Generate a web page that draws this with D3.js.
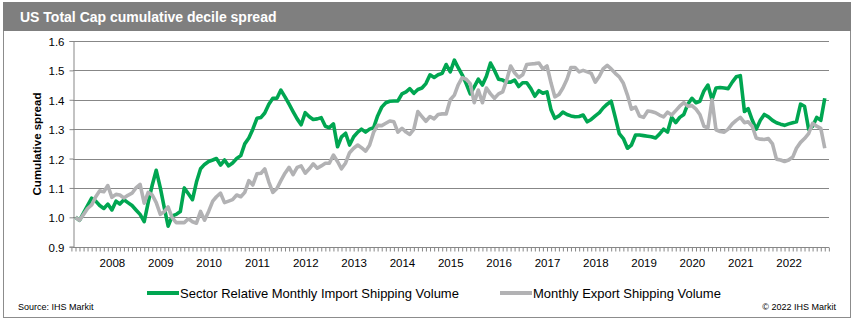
<!DOCTYPE html>
<html>
<head>
<meta charset="utf-8">
<script src="https://cdn.jsdelivr.net/npm/d3@7"></script>
<style>
  body { margin: 0; background: #fff; }
  text { font-family: "Liberation Sans", Arial, sans-serif; }
</style>
</head>
<body>
<div class="canvas"></div>
<script>
// monthly values, first point April 2007, last October 2022
const importSpread = [
  1.00, 0.99, 1.015, 1.04, 1.065, 1.055, 1.04, 1.03, 1.045,
  1.025, 1.055, 1.045, 1.06, 1.05, 1.04, 1.025, 1.01, 0.985, 1.05, 1.11, 1.16,
  1.10, 1.03, 0.97, 1.005, 1.01, 1.02, 1.10, 1.08, 1.06, 1.12, 1.165, 1.18,
  1.19, 1.195, 1.20, 1.178, 1.195, 1.175, 1.185, 1.20, 1.21, 1.25, 1.27, 1.30,
  1.337, 1.34, 1.355, 1.385, 1.405, 1.405, 1.433, 1.41, 1.385, 1.36, 1.335, 1.315,
  1.356, 1.342, 1.333, 1.335, 1.339, 1.31, 1.305, 1.318, 1.24, 1.274, 1.286, 1.246,
  1.274, 1.29, 1.30, 1.29, 1.30, 1.305, 1.345, 1.375, 1.39, 1.395, 1.396, 1.396,
  1.42, 1.427, 1.438, 1.422, 1.435, 1.44, 1.455, 1.485, 1.476, 1.485, 1.49, 1.52,
  1.495, 1.535, 1.51, 1.485, 1.455, 1.42, 1.444, 1.47, 1.45, 1.48, 1.525, 1.50,
  1.47, 1.467, 1.46, 1.46, 1.467, 1.445, 1.458, 1.458, 1.438, 1.412, 1.431, 1.422,
  1.427, 1.365, 1.337, 1.345, 1.358, 1.35, 1.345, 1.342, 1.343, 1.348, 1.325, 1.333,
  1.345, 1.356, 1.372, 1.385, 1.395, 1.34, 1.285, 1.268, 1.235, 1.246, 1.28, 1.28,
  1.278, 1.276, 1.274, 1.27, 1.283, 1.30, 1.29, 1.34, 1.322, 1.34, 1.35, 1.385,
  1.405, 1.39, 1.395, 1.43, 1.45, 1.40, 1.44, 1.442, 1.44, 1.438, 1.46, 1.478,
  1.482, 1.36, 1.37, 1.331, 1.30, 1.33, 1.35, 1.342, 1.33, 1.322, 1.317, 1.313,
  1.318, 1.322, 1.325, 1.385, 1.378, 1.30, 1.31, 1.34, 1.33, 1.405
]
const exportSpread = [
  1.00, 0.99, 1.01, 1.03, 1.042, 1.07, 1.09, 1.087, 1.108,
  1.068, 1.078, 1.076, 1.066, 1.075, 1.082, 1.10, 1.112, 1.048, 1.085, 1.076, 1.05,
  1.01, 1.02, 1.035, 0.998, 0.982, 0.982, 0.982, 0.995, 0.985, 0.98, 1.02, 0.99,
  1.02, 1.055, 1.07, 1.082, 1.05, 1.055, 1.06, 1.076, 1.07, 1.085, 1.125, 1.11,
  1.148, 1.15, 1.165, 1.12, 1.085, 1.098, 1.125, 1.15, 1.17, 1.145, 1.17, 1.175,
  1.15, 1.165, 1.182, 1.167, 1.175, 1.184, 1.184, 1.212, 1.19, 1.165, 1.185, 1.22,
  1.235, 1.246, 1.237, 1.225, 1.245, 1.29, 1.313, 1.312, 1.32, 1.328, 1.325, 1.29,
  1.303, 1.29, 1.282, 1.30, 1.36, 1.343, 1.327, 1.343, 1.335, 1.35, 1.352, 1.352,
  1.40, 1.416, 1.45, 1.475, 1.47, 1.455, 1.39, 1.433, 1.39, 1.44, 1.42, 1.405,
  1.42, 1.427, 1.465, 1.515, 1.492, 1.476, 1.485, 1.52, 1.522, 1.523, 1.525, 1.505,
  1.515, 1.456, 1.41, 1.418, 1.44, 1.47, 1.51, 1.51, 1.495, 1.50, 1.495, 1.49,
  1.46, 1.48, 1.505, 1.517, 1.505, 1.49, 1.478, 1.456, 1.416, 1.368, 1.375, 1.345,
  1.34, 1.362, 1.36, 1.356, 1.348, 1.342, 1.358, 1.348, 1.363, 1.378, 1.39, 1.378,
  1.38, 1.368, 1.35, 1.31, 1.305, 1.40, 1.298, 1.292, 1.29, 1.30, 1.318, 1.33,
  1.34, 1.322, 1.325, 1.31, 1.27, 1.266, 1.265, 1.268, 1.25, 1.198, 1.195, 1.19,
  1.195, 1.205, 1.235, 1.255, 1.268, 1.285, 1.32, 1.31, 1.303, 1.235
]
const yearLabels = [2008, 2009, 2010, 2011, 2012, 2013, 2014, 2015, 2016, 2017, 2018, 2019, 2020, 2021, 2022]
const yTicks = [0.9, 1.0, 1.1, 1.2, 1.3, 1.4, 1.5, 1.6]
const seriesNames = ["Sector Relative Monthly Import Shipping Volume", "Monthly Export Shipping Volume"]
const seriesColors = ["#00a651", "#b2b2b4"]

const startMonth = new Date(2007, 3, 1)
const months = d3.timeMonth.range(startMonth, d3.timeMonth.offset(startMonth, importSpread.length))

const svg = d3.select(".canvas")
    .append("svg")
    .attr("width", 860)
    .attr("height", 328)

// frame + title bar
svg.append("rect")
    .attr("x", 3.5).attr("y", 2.5)
    .attr("width", 847).attr("height", 315)
    .attr("fill", "#fff")
    .attr("stroke", "#8c8c8c")
svg.append("rect")
    .attr("x", 3).attr("y", 2)
    .attr("width", 848).attr("height", 29)
    .attr("fill", "#7f7f7f")
svg.append("text")
    .attr("x", 20).attr("y", 22)
    .attr("fill", "#fff")
    .attr("font-size", 14)
    .attr("font-weight", "bold")
    .text("US Total Cap cumulative decile spread")

const x = d3.scaleTime()
    .domain([d3.timeDay.offset(startMonth, -19), d3.timeDay.offset(months[months.length - 1], 32)])
    .range([73, 829])
const y = d3.scaleLinear()
    .domain([0.9, 1.6])
    .range([246.7, 41])

// gridlines
svg.append("g")
    .selectAll("line")
    .data(yTicks)
    .enter()
    .append("line")
    .attr("x1", 73).attr("x2", 829)
    .attr("y1", d => Math.round(y(d)) + 0.5)
    .attr("y2", d => Math.round(y(d)) + 0.5)
    .attr("stroke", "#878787")

const yAxis = d3.axisLeft(y)
    .tickValues(yTicks)
    .tickFormat(d3.format(".1f"))
    .tickSize(4)
    .tickPadding(5)
const yAxisGroup = svg.append("g")
    .attr("transform", "translate(73.5, 0)")
    .call(yAxis)
yAxisGroup.selectAll("line").attr("stroke", "#878787")
yAxisGroup.select(".domain").attr("stroke", "#878787")
yAxisGroup.selectAll("text")
    .attr("font-family", "Liberation Sans, Arial, sans-serif")
    .attr("font-size", 11.5)
    .attr("fill", "#000")
    .attr("y", d => Math.round(y(d)) - y(d) + 0.5)

// monthly minor ticks
const xMinor = d3.axisBottom(x)
    .tickValues(d3.timeMonth.range(d3.timeMonth.offset(startMonth, -1), d3.timeMonth.offset(months[months.length - 1], 2)))
    .tickFormat("")
    .tickSize(4)
const xMinorGroup = svg.append("g")
    .attr("transform", `translate(0, ${Math.round(y(0.9)) + 0.5})`)
    .call(xMinor)
xMinorGroup.selectAll("line").attr("stroke", "#878787")
xMinorGroup.select(".domain").remove()

const xAxis = d3.axisBottom(x)
    .tickValues(yearLabels.map(yr => new Date(yr, 0, 1)))
    .tickFormat(d3.timeFormat("%Y"))
    .tickSize(0)
    .tickPadding(11)
const xAxisGroup = svg.append("g")
    .attr("transform", `translate(0, ${Math.round(y(0.9)) + 0.5})`)
    .call(xAxis)
xAxisGroup.select(".domain").remove()
xAxisGroup.selectAll("text")
    .attr("font-family", "Liberation Sans, Arial, sans-serif")
    .attr("font-size", 11.5)
    .attr("fill", "#000")

svg.append("text")
    .attr("transform", "translate(41, 144) rotate(-90)")
    .attr("text-anchor", "middle")
    .attr("font-size", 11.5)
    .attr("font-weight", "bold")
    .text("Cumulative spread")

// lines
const line = d3.line()
    .x((d, i) => x(months[i]))
    .y(d => y(d))
    .curve(d3.curveLinear)

;[importSpread, exportSpread].forEach((values, k) => {
    svg.append("path")
        .datum(values)
        .attr("d", line)
        .attr("fill", "none")
        .attr("stroke", seriesColors[k])
        .attr("stroke-width", 3.6)
        .attr("stroke-linejoin", "round")
})

// legend
const legendX = [147, 500]
seriesNames.forEach((name, k) => {
    svg.append("line")
        .attr("x1", legendX[k]).attr("x2", legendX[k] + 32)
        .attr("y1", 293).attr("y2", 293)
        .attr("stroke", seriesColors[k])
        .attr("stroke-width", 4)
    svg.append("text")
        .attr("x", legendX[k] + 33)
        .attr("y", 298)
        .attr("font-size", 13)
        .attr("fill", "#000")
        .text(name)
})

svg.append("text")
    .attr("x", 18).attr("y", 310)
    .attr("font-size", 9)
    .text("Source: IHS Markit")
svg.append("text")
    .attr("x", 836).attr("y", 310)
    .attr("text-anchor", "end")
    .attr("font-size", 9)
    .text("© 2022 IHS Markit")
</script>
</body>
</html>
